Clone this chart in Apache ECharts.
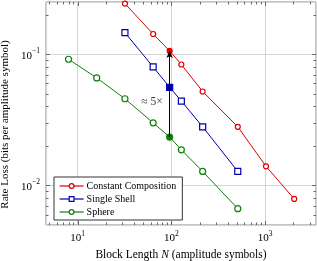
<!DOCTYPE html>
<html><head><meta charset="utf-8">
<script src="https://cdn.jsdelivr.net/npm/echarts@6/dist/echarts.min.js"></script>
<style>html,body{margin:0;padding:0;background:#fff}#c{width:317px;height:261px}</style>
</head><body><div id="c"></div>
<script>
// ---- data ----
const seriesNames = ['Constant Composition', 'Single Shell', 'Sphere'];
const ccN = [32, 64, 96, 128, 216, 512, 1024, 2048];
const ccLoss = [0.243, 0.1426, 0.106, 0.0835, 0.052, 0.028, 0.014, 0.0079];
const ssN = [32, 64, 96, 128, 216, 512];
const ssLoss = [0.146, 0.080, 0.056, 0.044, 0.028, 0.0128];
const spN = [8, 16, 32, 64, 96, 128, 216, 512];
const spLoss = [0.0916, 0.066, 0.0458, 0.030, 0.0234, 0.0187, 0.0128, 0.00666];
const highlightN = 96;
const arrowLabel = '≈ 5×';
const xRange = [4.6, 3500];
const yRange = [0.005, 0.25];
const xName = ['Block Length ', 'N', ' (amplitude symbols)'];
const yName = 'Rate Loss (bits per amplitude symbol)';

// ---- styling ----
const FONT = 'Liberation Serif';
const colors = ['#e00000', '#0000b0', '#108010'];
const symbols = ['circle', 'rect', 'circle'];
const symSizes = [5, 6, 6];

function mkData(xs, ys, color) {
  return xs.map((x, i) => x === highlightN
    ? { value: [x, ys[i]], itemStyle: { color: color, borderColor: color } }
    : [x, ys[i]]);
}
function powLabel(v) {
  const e = Math.log10(v);
  const r = Math.round(e);
  if (Math.abs(e - r) > 1e-6) return '';
  return '{b|10}{s|' + (r < 0 ? '\u2212' + (-r) : r) + '}';
}
const rich = {
  b: { fontFamily: FONT, fontSize: 11, color: '#000', lineHeight: 14, verticalAlign: 'bottom' },
  s: { fontFamily: FONT, fontSize: 7.5, color: '#000', lineHeight: 9, verticalAlign: 'top' }
};

const allN = [ccN, ssN, spN];
const allL = [ccLoss, ssLoss, spLoss];
const series = seriesNames.map((name, k) => ({
  name: name,
  type: 'line',
  data: mkData(allN[k], allL[k], colors[k]),
  symbol: symbols[k],
  symbolSize: symSizes[k],
  showAllSymbol: true,
  lineStyle: { color: colors[k], width: 1 },
  itemStyle: { color: '#fff', borderColor: colors[k], borderWidth: 1.2 },
  emphasis: { disabled: true },
  z: 3
}));

const hiIdxG = spN.indexOf(highlightN);
const hiIdxR = ccN.indexOf(highlightN);
series.push({
  type: 'line', data: [], silent: true,
  markLine: {
    silent: true,
    symbol: ['none', 'arrow'],
    symbolSize: [5, 7],
    lineStyle: { color: '#000', width: 1, type: 'solid' },
    label: { show: false },
    data: [[{ coord: [highlightN, spLoss[hiIdxG]] }, { coord: [highlightN, ccLoss[hiIdxR]] }]]
  },
  z: 2
});
series.push({
  type: 'scatter', silent: true, symbolSize: 0,
  data: [[highlightN, Math.sqrt(spLoss[hiIdxG] * ccLoss[hiIdxR])]],
  itemStyle: { color: '#000' },
  label: { show: true, position: 'left', distance: 7, offset: [0, 8], formatter: arrowLabel,
           fontFamily: FONT, fontSize: 11.5, color: '#000' },
  z: 2
});

const legendData = seriesNames.map((name, k) => ({
  name: name,
  itemStyle: { color: '#fff', borderColor: colors[k], borderWidth: 1.2 },
  lineStyle: { color: colors[k], width: 1.2 }
}));

const chart = echarts.init(document.getElementById('c'), null, { renderer: 'canvas' });
const GRID = { left: 46, right: 1, top: 2, bottom: 36 };
chart.setOption({
  animation: false,
  backgroundColor: '#fff',
  grid: Object.assign({ show: true, borderColor: '#888', borderWidth: 1, backgroundColor: 'transparent',
                        containLabel: false, outerBoundsMode: 'none' }, GRID),
  xAxis: {
    type: 'log', min: xRange[0], max: xRange[1],
    axisLine: { show: false }, axisTick: { show: false },
    splitLine: { show: true, lineStyle: { color: '#d4d4d4', width: 1 } },
    axisLabel: { formatter: powLabel, rich: rich, margin: 5, showMinLabel: false, showMaxLabel: false },
    name: '{a|' + xName[0] + '}{i|' + xName[1] + '}{a|' + xName[2] + '}',
    nameLocation: 'middle', nameGap: 24,
    nameTextStyle: { rich: {
      a: { fontFamily: FONT, fontSize: 11.5, color: '#000' },
      i: { fontFamily: FONT, fontSize: 11.5, color: '#000', fontStyle: 'italic' } } }
  },
  yAxis: {
    type: 'log', min: yRange[0], max: yRange[1],
    axisLine: { show: false }, axisTick: { show: false },
    splitLine: { show: true, lineStyle: { color: '#d4d4d4', width: 1 } },
    axisLabel: { formatter: powLabel, rich: rich, margin: 6, showMinLabel: false, showMaxLabel: false },
    name: yName, nameLocation: 'middle', nameGap: 28, nameRotate: 90,
    nameTextStyle: { fontFamily: FONT, fontSize: 11, color: '#000', padding: [0, 22, 0, 0] }
  },
  legend: {
    data: legendData,
    orient: 'vertical', left: 54, top: 177,
    padding: [4, 6, 3, 5],
    itemWidth: 24, itemHeight: 6, itemGap: 3,
    backgroundColor: '#fff', borderColor: '#333', borderWidth: 1, borderRadius: 0,
    textStyle: { fontFamily: FONT, fontSize: 10, color: '#000', padding: [0, 0, 0, -2] },
    selectedMode: false
  },
  series: series
});

// ---- tick marks (inside, on all four sides), positioned through the axis scales ----
const g = [];
const x0 = GRID.left, x1 = 317 - GRID.right, y0 = GRID.top, y1 = 261 - GRID.bottom;
const tickColor = '#666';
function isMajor(v) { const e = Math.log10(v); return Math.abs(e - Math.round(e)) < 1e-6; }
function tickValues(range) {
  const out = [];
  for (let p = Math.floor(Math.log10(range[0])); p <= Math.ceil(Math.log10(range[1])); p++) {
    for (let m = 1; m <= 9; m++) {
      const v = m * Math.pow(10, p);
      if (v > range[0] * 1.0001 && v < range[1] * 0.9999) out.push(v);
    }
  }
  return out;
}
tickValues(xRange).forEach(v => {
  const px = Math.round(chart.convertToPixel({ xAxisIndex: 0 }, v)) + 0.5;
  const L = isMajor(v) ? 4 : 2.5;
  g.push({ type: 'line', shape: { x1: px, y1: y1, x2: px, y2: y1 - L }, style: { stroke: tickColor, lineWidth: 1 }, silent: true });
  g.push({ type: 'line', shape: { x1: px, y1: y0, x2: px, y2: y0 + L }, style: { stroke: tickColor, lineWidth: 1 }, silent: true });
});
tickValues(yRange).forEach(v => {
  const py = Math.round(chart.convertToPixel({ yAxisIndex: 0 }, v)) + 0.5;
  const L = isMajor(v) ? 4 : 2.5;
  g.push({ type: 'line', shape: { x1: x0, y1: py, x2: x0 + L, y2: py }, style: { stroke: tickColor, lineWidth: 1 }, silent: true });
  g.push({ type: 'line', shape: { x1: x1, y1: py, x2: x1 - L, y2: py }, style: { stroke: tickColor, lineWidth: 1 }, silent: true });
});
chart.setOption({ graphic: g });
</script>
</body></html>
